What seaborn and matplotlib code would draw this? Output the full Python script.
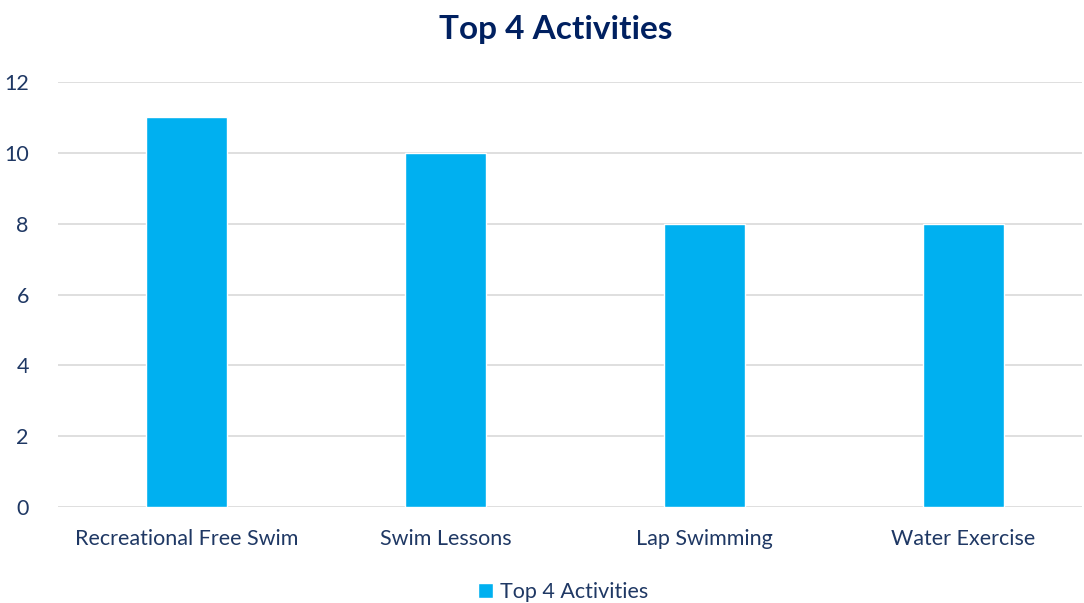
import pandas as pd
import matplotlib.pyplot as plt
import seaborn as sns

# data
activities = ["Recreational Free Swim", "Swim Lessons", "Lap Swimming", "Water Exercise"]
counts = [11, 10, 8, 8]
series_name = "Top 4 Activities"

df = pd.DataFrame({"Activity": activities, "Count": counts, "Series": series_name})

sns.set_style("white")
plt.rcParams["font.family"] = ["Lato", "DejaVu Sans"]

navy = "#1F3864"
blue = "#00B0F0"

fig = plt.figure(figsize=(10.84, 6.03), dpi=100)
ax = fig.add_axes([0.0535, 0.159, 0.945, 0.705])

sns.barplot(data=df, x="Activity", y="Count", hue="Series", palette=[blue],
            saturation=1, width=0.313, ax=ax, zorder=3)

ax.set_xlim(-0.498, 3.46)
ax.set_ylim(0, 12)
ax.set_yticks(range(0, 13, 2))
ax.yaxis.grid(True, color="#D9D9D9", linewidth=1.2, zorder=0)
ax.set_xlabel("")
ax.set_ylabel("")
for s in ax.spines.values():
    s.set_visible(False)
ax.tick_params(axis="both", length=0, labelsize=15.5, labelcolor=navy)
ax.tick_params(axis="y", pad=21)
ax.tick_params(axis="x", pad=16)

fig.suptitle("Top 4 Activities", x=0.513, y=0.975, fontsize=24, fontweight="bold", color="#002060")

ax.legend(loc="lower center", bbox_to_anchor=(0.493, -0.268), frameon=False,
          fontsize=15.5, labelcolor=navy, handlelength=0.7, handleheight=0.7,
          handletextpad=0.3)

fig.savefig("out.png", dpi=100)
